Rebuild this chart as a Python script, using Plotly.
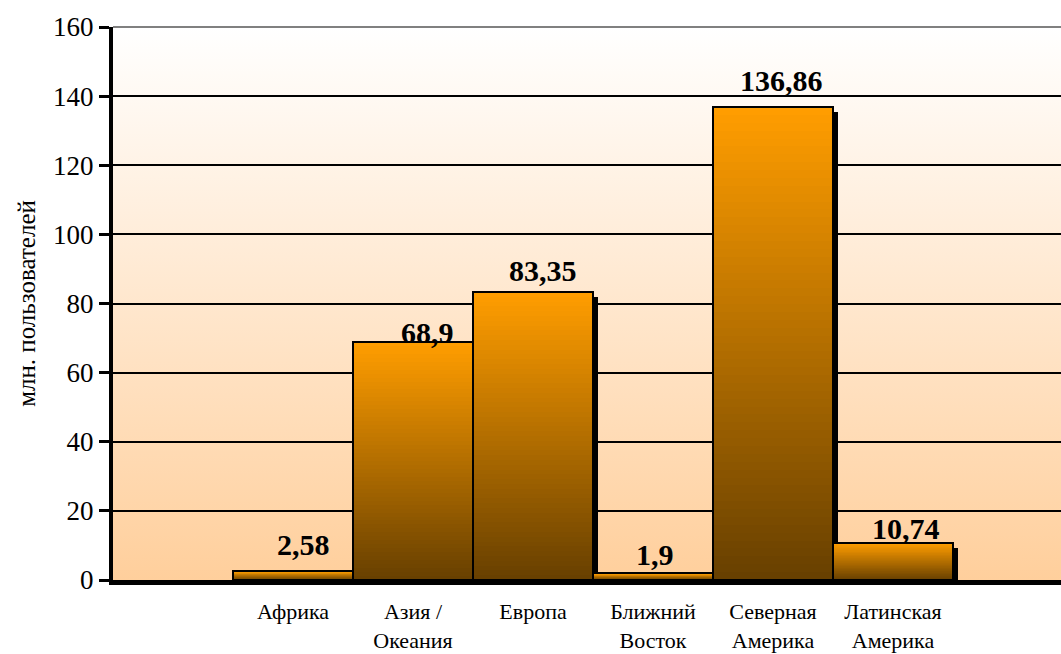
import base64
import plotly.graph_objects as go

# ---- data ----
categories = ["Африка", "Азия /<br>Океания", "Европа", "Ближний<br>Восток",
              "Северная<br>Америка", "Латинская<br>Америка"]
values = [2.58, 68.9, 83.35, 1.9, 136.86, 10.74]
value_labels = ["2,58", "68,9", "83,35", "1,9", "136,86", "10,74"]
y_ticks = [0, 20, 40, 60, 80, 100, 120, 140, 160]

# ---- style ----
label_xshift = [10, 14, 10, 2, 8, 13]
label_yshift = [8, -9, 3, 0, 8, -4]
top_rgb = (255, 157, 0)
bottom_rgb = (104, 64, 0)
n_steps = 60
serif = "Liberation Serif, Times New Roman, serif"

xpos = [i + 1 for i in range(len(categories))]

fig = go.Figure()

# shadow
shadow_h = 1.45
fig.add_trace(go.Bar(x=xpos, y=[v - shadow_h for v in values], width=1,
                     offset=-0.5 + 5 / 120, marker=dict(color="black", line=dict(width=0)),
                     hoverinfo="skip", showlegend=False))

# gradient fill (dark at bottom -> orange at top), overlapping layers
for k in range(n_steps):
    t = k / (n_steps - 1)
    c = tuple(round(bottom_rgb[j] + (top_rgb[j] - bottom_rgb[j]) * t) for j in range(3))
    frac = k / n_steps
    fig.add_trace(go.Bar(x=xpos, base=[v * frac for v in values],
                         y=[v * (1 - frac) for v in values], width=1,
                         marker=dict(color="rgb(%d,%d,%d)" % c, line=dict(width=0)),
                         hoverinfo="skip", showlegend=False))

# outline
fig.add_trace(go.Bar(x=xpos, y=values, width=1,
                     marker=dict(color="rgba(0,0,0,0)", line=dict(color="black", width=2)),
                     showlegend=False))

for x, v, lab, dx, dy in zip(xpos, values, value_labels, label_xshift, label_yshift):
    fig.add_annotation(x=x, y=v, text="<b>%s</b>" % lab, showarrow=False,
                       xanchor="center", yanchor="bottom", xshift=dx, yshift=dy,
                       font=dict(family=serif, size=30, color="black"))

# background gradient
svg = ('<svg xmlns="http://www.w3.org/2000/svg" width="10" height="100" preserveAspectRatio="none">'
       '<defs><linearGradient id="g" x1="0" y1="0" x2="0" y2="1">'
       '<stop offset="0" stop-color="#FFFFFF"/><stop offset="1" stop-color="#FFCF9C"/>'
       '</linearGradient></defs><rect width="10" height="100" fill="url(#g)"/></svg>')
uri = "data:image/svg+xml;base64," + base64.b64encode(svg.encode()).decode()
fig.add_layout_image(source=uri, xref="paper", yref="paper", x=0, y=1, sizex=1, sizey=1,
                     xanchor="left", yanchor="top", sizing="stretch", layer="below")

fig.add_shape(type="line", xref="paper", yref="paper", x0=0, x1=1, y0=1, y1=1,
              line=dict(color="#808080", width=2), layer="above")

fig.update_layout(
    width=1061, height=654,
    margin=dict(l=113, r=0, t=27, b=74),
    paper_bgcolor="white", plot_bgcolor="white",
    barmode="overlay", bargap=0,
    showlegend=False,
    font=dict(family=serif, color="black"),
)
fig.update_xaxes(range=[-0.5, 7.4], tickmode="array", tickvals=xpos, ticktext=categories,
                 showgrid=False, zeroline=False, showline=True, linecolor="black", linewidth=5,
                 ticks="outside", ticklen=8, tickcolor="rgba(0,0,0,0)", automargin=False,
                 tickfont=dict(family=serif, size=22, color="black"))
fig.update_yaxes(range=[0, 160], tickmode="array", tickvals=y_ticks,
                 showgrid=True, gridcolor="black", gridwidth=2, zeroline=False,
                 showline=True, linecolor="black", linewidth=4, automargin=False,
                 ticks="outside", ticklen=10, tickwidth=3, tickcolor="black",
                 tickfont=dict(family=serif, size=27, color="black"),
                 title=dict(text="млн. пользователей", standoff=11,
                            font=dict(family=serif, size=25, color="black")))

fig.write_html("out.html", config={"displayModeBar": False},
               post_script="document.body.style.margin='0px';")
